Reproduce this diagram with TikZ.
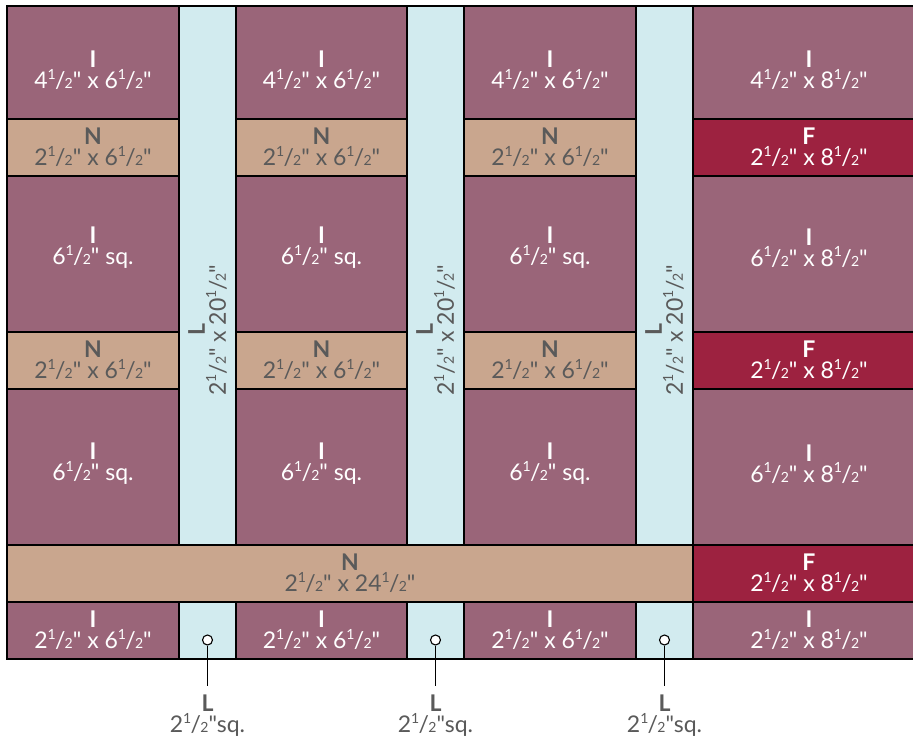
\documentclass[tikz,border=0pt]{standalone}
\usepackage{fontspec}
\setmainfont{Lato}[Ligatures=TeXOff]
\usetikzlibrary{calc}

\definecolor{quiltI}{HTML}{9A6579}
\definecolor{quiltN}{HTML}{C9A68E}
\definecolor{quiltL}{HTML}{D2EBEF}
\definecolor{quiltF}{HTML}{9D2240}
\definecolor{labelgrey}{HTML}{5A5A5A}

% half fraction
\newcommand{\hf}{\raisebox{0.42em}{\fontsize{14}{14}\selectfont 1}\kern-0.03em/\kern-0.03em{\fontsize{14}{14}\selectfont 2}}

% one patch: style, corner, corner, label style, text, name
\newcommand{\piece}[6]{%
  \draw[#1] (#2) rectangle (#3);
  \node[#4] (#6) at ($(#2)!0.5!(#3)$) {#5};
}

\tikzset{
  patch/.style={draw=black, line width=1.2pt},
  pI/.style={patch, fill=quiltI},
  pN/.style={patch, fill=quiltN},
  pL/.style={patch, fill=quiltL},
  pF/.style={patch, fill=quiltF},
  lbl/.style={align=center, inner sep=0pt, font=\fontsize{23}{21}\selectfont},
  lblW/.style={lbl, text=white},
  lblG/.style={lbl, text=labelgrey},
  dot/.style={circle, draw=black, fill=white, line width=1.1pt, minimum size=10pt, inner sep=0pt},
}

\begin{document}
\begin{tikzpicture}[x=1pt, y=-1pt]
  \useasboundingbox (0,0) rectangle (913,741);
  \clip (0,0) rectangle (913,741);

  % Three left columns of I and N pieces
  \foreach \xa/\xb/\c in {7/179/a, 236/407/b, 464/636/c} {
    \piece{pI}{\xa,6}{\xb,119}{lblW, yshift=-8pt}{\textbf{I}\\4\hf" x 6\hf"}{top\c}
    \piece{pN}{\xa,119}{\xb,176}{lblG}{\textbf{N}\\2\hf" x 6\hf"}{nup\c}
    \piece{pI}{\xa,176}{\xb,332}{lblW, yshift=6pt}{\textbf{I}\\6\hf" sq.}{squp\c}
    \piece{pN}{\xa,332}{\xb,389}{lblG}{\textbf{N}\\2\hf" x 6\hf"}{nlow\c}
    \piece{pI}{\xa,389}{\xb,545}{lblW, yshift=3pt}{\textbf{I}\\6\hf" sq.}{sqlow\c}
    \piece{pI}{\xa,602}{\xb,659}{lblW}{\textbf{I}\\2\hf" x 6\hf"}{bot\c}
  }

  % Sashing strips and cornerstones
  \foreach \xa/\xb/\c in {179/236/a, 407/464/b, 636/693/c} {
    \draw[pL] (\xa,6) rectangle (\xb,545);
    \node[lblG, rotate=90] (strip\c) at ({(\xa+\xb)/2},330) {\textbf{L}\\2\hf" x 20\hf"};
    \draw[pL] (\xa,602) rectangle (\xb,659);
    \node[dot] (dot\c) at ({(\xa+\xb)/2},640) {};
    \coordinate (tail\c) at ({(\xa+\xb)/2},686);
    \draw[line width=1.1pt] (dot\c) -- (tail\c);
    \node[lblG, below=9pt] (callout\c) at (tail\c) {\textbf{L}\\2\hf"sq.};
  }

  % Long N strip
  \piece{pN}{7,545}{693,602}{lblG}{\textbf{N}\\2\hf" x 24\hf"}{nlong}

  % Right column
  \piece{pI}{693,6}{925,119}{lblW, yshift=-8pt}{\textbf{I}\\4\hf" x 8\hf"}{rtop}
  \piece{pF}{693,119}{925,176}{lblW}{\textbf{F}\\2\hf" x 8\hf"}{rfa}
  \piece{pI}{693,176}{925,332}{lblW, yshift=6pt}{\textbf{I}\\6\hf" x 8\hf"}{rmida}
  \piece{pF}{693,332}{925,389}{lblW}{\textbf{F}\\2\hf" x 8\hf"}{rfb}
  \piece{pI}{693,389}{925,545}{lblW, yshift=3pt}{\textbf{I}\\6\hf" x 8\hf"}{rmidb}
  \piece{pF}{693,545}{925,602}{lblW}{\textbf{F}\\2\hf" x 8\hf"}{rfc}
  \piece{pI}{693,602}{925,659}{lblW}{\textbf{I}\\2\hf" x 8\hf"}{rbot}
\end{tikzpicture}
\end{document}
